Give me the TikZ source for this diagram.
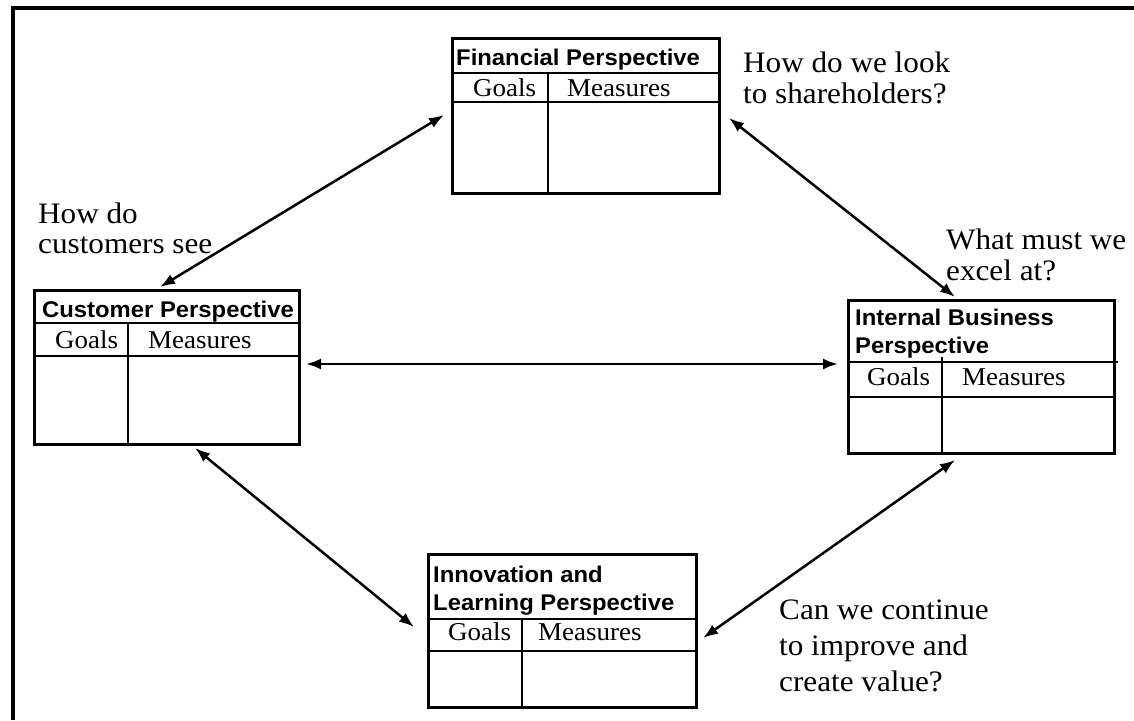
\documentclass[tikz,border=0pt]{standalone}
\usepackage{fontspec}
\setmainfont[FakeStretch=1.05]{Liberation Serif}
\newfontfamily\hdfont[FakeStretch=1.05]{Liberation Sans}
\usetikzlibrary{arrows.meta}

\begin{document}
\begin{tikzpicture}[x=1pt,y=-1pt,
  panel/.style={draw, line width=3pt, rectangle, inner sep=0pt, outer sep=0pt, anchor=north west},
  rule/.style={line width=2.6pt},
  head/.style={font=\hdfont\bfseries\fontsize{22.7}{28}\selectfont, anchor=base west, inner sep=0pt, align=left},
  col/.style={font=\fontsize{25.7}{26}\selectfont, anchor=base west, inner sep=0pt},
  ask/.style={font=\fontsize{29.7}{31}\selectfont, anchor=base west, inner sep=0pt, align=left},
  link/.style={line width=2.5pt, {Latex[length=15pt,width=11pt]}-{Latex[length=15pt,width=11pt]}}]

\useasboundingbox (0,0) rectangle (1134,720);

% frame
\draw[line width=4pt] (13,720) -- (13,8) -- (1134,8);

% Financial perspective
\node[panel, minimum width=267, minimum height=155] (fin) at (452,38) {};
\draw[rule] (452,73) -- (719,73) (452,102) -- (719,102) (548,73) -- (548,193);
\node[head] (finT) at (456,65) {Financial Perspective};
\node[col] (finG) at (473,96) {Goals};
\node[col] (finM) at (567,96) {Measures};

% Customer perspective
\node[panel, minimum width=265, minimum height=154] (cus) at (34,290) {};
\draw[rule] (34,323) -- (299,323) (34,356) -- (299,356) (128,323) -- (128,444);
\node[head] (cusT) at (42,317) {Customer Perspective};
\node[col] (cusG) at (55,348) {Goals};
\node[col] (cusM) at (148,348) {Measures};

% Internal business perspective
\node[panel, minimum width=266, minimum height=153] (int) at (848,300) {};
\draw[rule] (848,362) -- (1118,362) (848,397) -- (1114,397) (942,357) -- (942,453);
\node[head] (intT) at (855,353) {Internal Business\\Perspective};
\node[col] (intG) at (867,385) {Goals};
\node[col] (intM) at (962,385) {Measures};

% Innovation and learning perspective
\node[panel, minimum width=268, minimum height=153] (inn) at (428,554) {};
\draw[rule] (428,619) -- (696,619) (428,651) -- (696,651) (522,619) -- (522,707);
\node[head] (innT) at (433,610) {Innovation and\\Learning Perspective};
\node[col] (innG) at (448,640) {Goals};
\node[col] (innM) at (538,640) {Measures};

% questions (anchored at the baseline of the last line)
\node[ask] (q1) at (743,103) {How do we look\\to shareholders?};
\node[ask, font=\fontsize{29.7}{30}\selectfont] (q2) at (38,253) {How do\\customers see};
\node[ask] (q3) at (946,280) {What must we\\excel at?};
\node[ask, font=\fontsize{29.7}{36}\selectfont] (q4) at (779,691) {Can we continue\\to improve and\\create value?};

% arrow ends
\coordinate (fa1) at ([shift={(-8,77)}]fin.north west);
\coordinate (fa2) at ([shift={(10,80)}]fin.north east);
\coordinate (ca1) at ([shift={(126,-3)}]cus.north west);
\coordinate (ca2) at ([shift={(7,74)}]cus.north east);
\coordinate (ca3) at ([shift={(161,4)}]cus.south west);
\coordinate (ia1) at ([shift={(107,-3)}]int.north west);
\coordinate (ia2) at ([shift={(-10,64)}]int.north west);
\coordinate (ia3) at ([shift={(107,7)}]int.south west);
\coordinate (na1) at ([shift={(-14,73)}]inn.north west);
\coordinate (na2) at ([shift={(7,84)}]inn.north east);

\draw[link] (fa1) -- (ca1);
\draw[link] (fa2) -- (ia1);
\draw[link] (ca2) -- (ia2);
\draw[link] (ca3) -- (na1);
\draw[link] (ia3) -- (na2);
\end{tikzpicture}
\end{document}
